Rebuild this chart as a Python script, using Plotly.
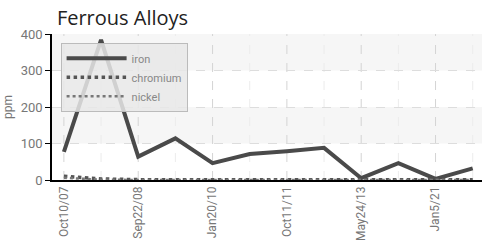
import plotly.graph_objects as go

idx = list(range(12))
tick_pos = [0, 2, 4, 6, 8, 10]
tick_labels = ["Oct10/07", "Sep22/08", "Jan20/10", "Oct11/11", "May24/13", "Jan5/21"]
iron = [77, 384, 64, 114, 46, 71, 79, 88, 5, 46, 3, 32]
chromium = [10, 3, 1, 1, 1, 1, 1, 1, 1, 1, 1, 1]
nickel = [6, 1, 0, 0, 0, 0, 0, 0, 0, 0, 0, 0]
y_ticks = [0, 100, 200, 300, 400]

fig = go.Figure()
fig.add_trace(go.Scatter(x=idx, y=iron, name="iron", mode="lines",
                         line=dict(color="#4a4a4a", width=4)))
fig.add_trace(go.Scatter(x=idx, y=chromium, name="chromium", mode="lines",
                         line=dict(color="#555555", width=3.5, dash="dot")))
fig.add_trace(go.Scatter(x=idx, y=nickel, name="nickel", mode="lines",
                         line=dict(color="#777777", width=2.5, dash="dot")))

for lo, hi in [(100, 200), (300, 400)]:
    fig.add_shape(type="rect", xref="paper", yref="y", x0=0, x1=1, y0=lo, y1=hi,
                  fillcolor="#f6f6f6", line_width=0, layer="below")

# vertical dashed gridlines at each category
for i in idx:
    fig.add_shape(type="line", xref="x", yref="paper", x0=i, x1=i, y0=0, y1=1,
                  line=dict(color="#d4d4d4" if i % 2 == 0 else "#ececec", width=1, dash="dash"),
                  layer="below")

tick_font = dict(family="Roboto, sans-serif", size=12, color="#777777")

fig.update_layout(
    width=482, height=243,
    margin=dict(l=52, r=0, t=34, b=63),
    paper_bgcolor="white", plot_bgcolor="white",
    title=dict(text="Ferrous Alloys", x=0.118, xanchor="left", y=0.925, yanchor="middle",
               font=dict(family="Open Sans, DejaVu Sans, sans-serif", size=20, color="#222222")),
    showlegend=True,
    legend=dict(x=0.02, y=0.94, xanchor="left", yanchor="top",
                bgcolor="rgba(232,232,232,0.85)", bordercolor="#bbbbbb", borderwidth=1,
                font=dict(family="Roboto, sans-serif", size=11, color="#888888"),
                tracegroupgap=0, itemwidth=60),
    xaxis=dict(range=[-0.32, 11.25], tickmode="array", tickvals=tick_pos, ticktext=tick_labels,
               tickangle=-90, tickfont=tick_font, showline=True, linecolor="black", linewidth=1.5,
               showgrid=False, zeroline=False, ticks="", automargin=False),
    yaxis=dict(range=[0, 400], tickvals=y_ticks, tickfont=dict(family="Roboto, sans-serif", size=13, color="#777777"),
               showline=True, automargin=False,
               linecolor="black", linewidth=1.5, ticks="outside", ticklen=5, tickcolor="black",
               showgrid=True, gridcolor="#dddddd", griddash="dash", zeroline=False,
               title=dict(text="ppm", font=dict(family="Roboto, sans-serif",
                                                 size=12, color="#777777"), standoff=6)),
)

fig.write_html("out.html", config={"displayModeBar": False},
               post_script="document.body.style.margin='0';document.body.style.padding='0';")
